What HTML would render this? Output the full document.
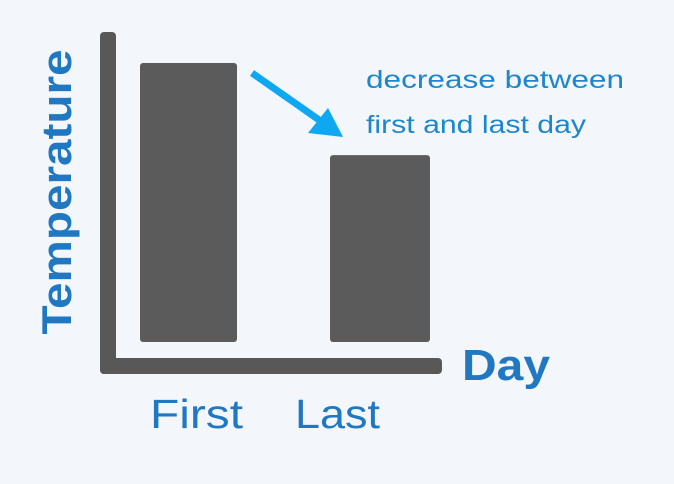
<!DOCTYPE html>
<html><head><meta charset="utf-8"><style>
html,body{margin:0;padding:0;background:#f3f6fa;}
svg{display:block;font-family:"Liberation Sans","DejaVu Sans",sans-serif;}
</style></head><body>
<svg id="c" width="674" height="484" viewBox="0 0 674 484">
<rect x="0" y="0" width="674" height="484" fill="#f3f6fa"/>
<g id="bars"></g>
<rect x="100" y="32" width="16" height="342" rx="4" fill="#585858"/>
<rect x="100" y="358" width="342" height="16" rx="4" fill="#585858"/>
<line x1="252" y1="73" x2="322" y2="122" stroke="#0ea8f2" stroke-width="7"/>
<polygon points="343,137 308,133 328,108" fill="#0ea8f2"/>
<text x="366" y="88" font-size="25" fill="#1d86cc" textLength="258" lengthAdjust="spacingAndGlyphs">decrease  between</text>
<text x="366" y="133" font-size="25" fill="#1d86cc" textLength="220" lengthAdjust="spacingAndGlyphs">first and last day</text>
<text transform="translate(71,192) rotate(-90)" text-anchor="middle" font-size="42" font-weight="bold" fill="#1f78c1" textLength="285" lengthAdjust="spacingAndGlyphs">Temperature</text>
<text x="462" y="380" font-size="44" font-weight="bold" fill="#1f78c1" textLength="88" lengthAdjust="spacingAndGlyphs">Day</text>
<g id="labels"></g>
</svg>
<script>
const categories = ["First", "Last"];
const values = [100, 67];
const maxValue = 100;

const baseY = 342, plotH = 279;
const barX = [140, 330], barW = [97, 100];
function yScale(v){ return baseY - v / maxValue * plotH; }
const ns = "http://www.w3.org/2000/svg";
const bars = document.getElementById("bars");
const labels = document.getElementById("labels");
const labelX = [150, 295], labelW = [93, 85];
categories.forEach((c, i) => {
  const r = document.createElementNS(ns, "rect");
  const y = yScale(values[i]);
  r.setAttribute("x", barX[i]);
  r.setAttribute("y", y);
  r.setAttribute("width", barW[i]);
  r.setAttribute("height", baseY - y);
  r.setAttribute("rx", 3);
  r.setAttribute("fill", "#5b5b5b");
  
  
  bars.appendChild(r);
  const t = document.createElementNS(ns, "text");
  t.setAttribute("x", labelX[i]);
  t.setAttribute("y", 428);
  t.setAttribute("font-size", "41");
  t.setAttribute("fill", "#1f78c1");
  t.setAttribute("textLength", labelW[i]);
  t.setAttribute("lengthAdjust", "spacingAndGlyphs");
  t.textContent = c;
  
  
  labels.appendChild(t);
});
</script>
</body></html>
